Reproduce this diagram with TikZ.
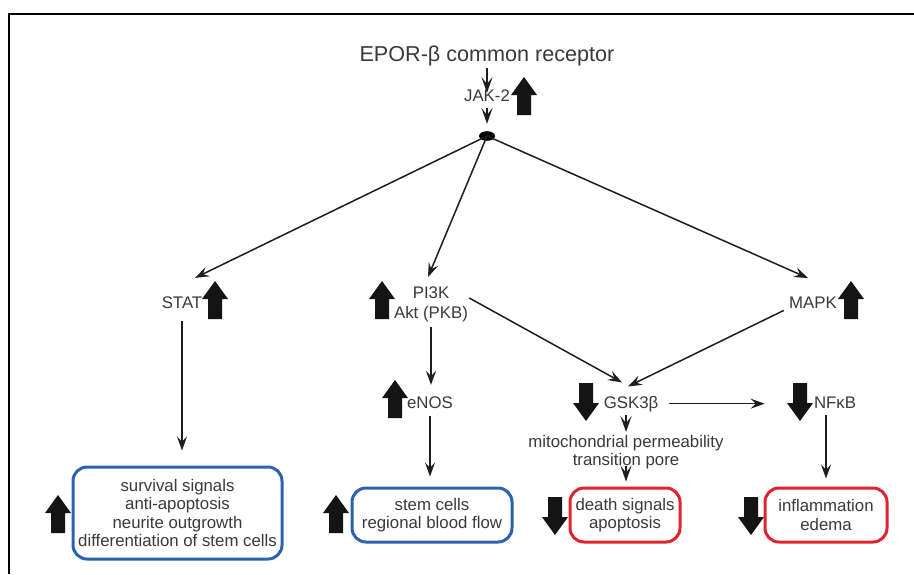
\documentclass[tikz,border=0pt]{standalone}
\usepackage{fontspec}
\setmainfont{Liberation Sans}
\usetikzlibrary{arrows.meta,calc,shapes.geometric}
\definecolor{txt}{HTML}{3A3A3A}
\definecolor{bblue}{HTML}{2C62B0}
\definecolor{bred}{HTML}{E0232E}
\definecolor{lnc}{HTML}{1E1E1E}
\begin{document}
\begin{tikzpicture}[x=0.5pt,y=-0.5pt,
  lbl/.style={font=\fontsize{8.4}{9.2}\selectfont, text=txt, inner sep=0pt, align=center},
  conn/.style={draw=lnc, line width=0.75pt, -{Stealth[length=7pt,width=5pt,inset=2.6pt]}},
  tick/.style={draw=lnc, line width=0.75pt, -{Stealth[length=8pt,width=5.6pt,inset=3.6pt]}},
  outbox/.style={rounded corners=7pt, line width=1.5pt, align=center,
    font=\fontsize{8.4}{9.2}\selectfont, text=txt, inner sep=0pt, minimum height=27pt},
  upblk/.pic={\fill[black!92] (0,-19) -- (13,-1) -- (7,-1) -- (7,19) -- (-7,19) -- (-7,-1) -- (-13,-1) -- cycle;},
  downblk/.pic={\fill[black!92] (0,19) -- (13,1) -- (7,1) -- (7,-19) -- (-7,-19) -- (-7,1) -- (-13,1) -- cycle;}
]
\useasboundingbox (0,0) rectangle (914,574);
\fill[white] (0,0) rectangle (914,574);
\draw[line width=1.1pt] (9,574) -- (9,14) -- (914,14);

% nodes
\node[lbl, font=\fontsize{10.8}{12}\selectfont, anchor=base] (epor) at (487,61) {EPOR-β common receptor};
\node[lbl, anchor=base] (jak) at (487,101) {JAK-2};
\pic at (524,96) {upblk};
\node[ellipse, fill=black, minimum width=8pt, minimum height=4.8pt, inner sep=0pt] (dot) at (487,136) {};
\node[lbl, anchor=base] (stat) at (182,308) {STAT};
\pic at (215,300) {upblk};
\node[lbl, font=\fontsize{8.4}{10}\selectfont] (pi3k) at (431,304) {PI3K\\Akt (PKB)};
\pic at (382,300) {upblk};
\node[lbl, anchor=base] (mapk) at (813,308) {MAPK};
\pic at (851,300) {upblk};
\node[lbl, anchor=base] (enos) at (430,408) {eNOS};
\pic at (395,399) {upblk};
\node[lbl, anchor=base] (gsk) at (631,408) {GSK3β};
\pic at (586,402) {downblk};
\node[lbl, anchor=base] (nfkb) at (835,408) {NFκB};
\pic at (800,402) {downblk};
\node[lbl, font=\fontsize{8.4}{9}\selectfont] (mito) at (626,452) {mitochondrial permeability\\transition pore};

\node[outbox, draw=bblue, minimum width=104.5pt, minimum height=46pt] (box1) at (177.5,513)
  {survival signals\\anti-apoptosis\\neurite outgrowth\\differentiation of stem cells};
\pic at (58,514) {upblk};
\node[outbox, draw=bblue, minimum width=80pt] (box2) at (432,515) {stem cells\\regional blood flow};
\pic at (336,514) {upblk};
\node[outbox, draw=bred, minimum width=55pt] (box3) at (625,515) {death signals\\apoptosis};
\pic at (555,516) {downblk};
\node[outbox, draw=bred, minimum width=61pt] (box4) at (826,515) {inflammation\\edema};
\pic at (751,516) {downblk};

% connectors
\draw[tick, shorten <=1pt, shorten >=-2pt] (epor) -- (jak);
\draw[tick, shorten <=3pt, shorten >=3.5pt] (jak) -- (dot);
\draw[conn] (dot.center) -- ($(stat.north)+(13,-18)$);
\draw[conn] (dot.center) -- ($(pi3k.north)+(-3,-9)$);
\draw[conn] (dot.center) -- ($(mapk.north)+(-5,-18)$);
\draw[conn, shorten <=6pt, shorten >=7.5pt] (stat.south) -- (stat.south |- box1.north);
\draw[conn, shorten <=2.6pt, shorten >=5.5pt] (pi3k.south) -- (pi3k.south |- enos.north);
\draw[conn, shorten <=3.5pt, shorten >=5pt] (enos.south) -- (enos.south |- box2.north);
\draw[conn] ($(pi3k.east)+(1,-6)$) -- ($(gsk.north)+(-9,-13)$);
\draw[conn] ($(mapk.south west)+(-5,2)$) -- ($(gsk.north)+(-3,-9)$);
\draw[conn] ($(gsk.east)+(10,0)$) -- ($(nfkb.west |- gsk.east)+(-49,0)$);
\draw[tick, shorten <=1.8pt, shorten >=1.4pt] (mito.north |- gsk.south) -- (mito.north);
\draw[tick, shorten <=-1.8pt, shorten >=2.5pt] (mito.south) -- (mito.south |- box3.north);
\draw[conn, shorten <=3.5pt, shorten >=4pt] (box4.north |- nfkb.south) -- (box4.north);
\end{tikzpicture}
\end{document}
